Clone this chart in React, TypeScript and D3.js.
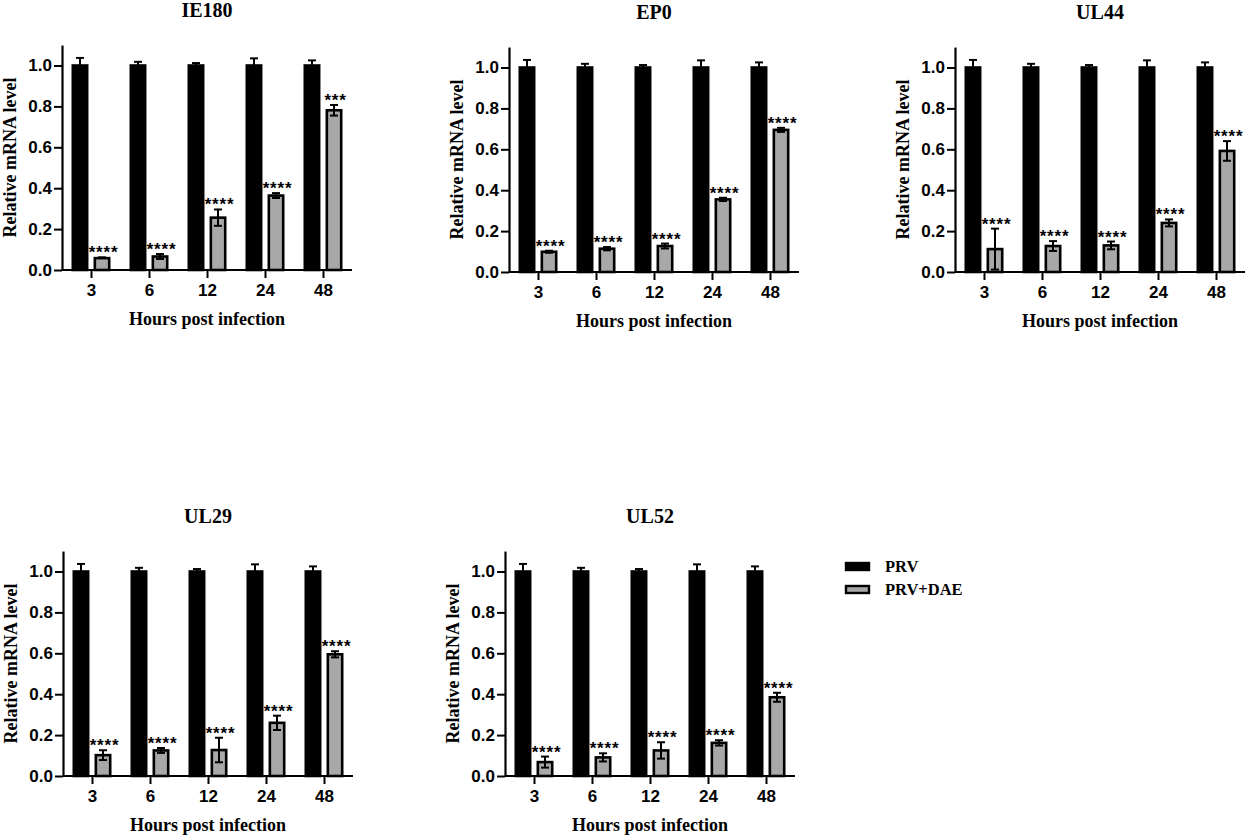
import React, { useEffect, useRef } from 'react';
import * as d3 from 'd3';

// 横轴类别与系列
const hours = ['3', '6', '12', '24', '48'];
const series = ['PRV', 'PRV+DAE'];
const genes = ['IE180', 'EP0', 'UL44', 'UL29', 'UL52'];
const yTicks = [0, 0.2, 0.4, 0.6, 0.8, 1.0];

// PRV 对照组（各基因相同）
const prvMean = [1, 1, 1, 1, 1];
const prvErr = [0.037, 0.018, 0.012, 0.035, 0.025];

// PRV+DAE 组
const ie180Mean = [0.058, 0.066, 0.256, 0.364, 0.781];
const ie180Err = [0.004, 0.012, 0.04, 0.012, 0.026];
const ie180Stars = ['****', '****', '****', '****', '***'];

const ep0Mean = [0.099, 0.114, 0.127, 0.355, 0.695];
const ep0Err = [0.005, 0.008, 0.012, 0.008, 0.01];
const ep0Stars = ['****', '****', '****', '****', '****'];

const ul44Mean = [0.112, 0.127, 0.13, 0.24, 0.592];
const ul44Err = [0.1, 0.024, 0.019, 0.017, 0.048];
const ul44Stars = ['****', '****', '****', '****', '****'];

const ul29Mean = [0.102, 0.125, 0.127, 0.26, 0.595];
const ul29Err = [0.024, 0.012, 0.06, 0.035, 0.015];
const ul29Stars = ['****', '****', '****', '****', '****'];

const ul52Mean = [0.068, 0.091, 0.125, 0.162, 0.385];
const ul52Err = [0.027, 0.02, 0.04, 0.013, 0.022];
const ul52Stars = ['****', '****', '****', '****', '****'];

const daeMeans = [ie180Mean, ep0Mean, ul44Mean, ul29Mean, ul52Mean];
const daeErrs = [ie180Err, ep0Err, ul44Err, ul29Err, ul52Err];
const daeStars = [ie180Stars, ep0Stars, ul44Stars, ul29Stars, ul52Stars];

// 面板布局：y轴位置、基线
const panels = [
  { ax: 62, base: 270 },
  { ax: 509, base: 272 },
  { ax: 955, base: 272 },
  { ax: 63, base: 776 },
  { ax: 505, base: 776 }
];

const WIDTH = 1248;
const HEIGHT = 837;
const AXIS_LEN = 290;
const UNIT = 204.5;
const SERIF = '"Liberation Serif", "Times New Roman", serif';
const SANS = '"Liberation Sans", Arial, sans-serif';
const GRAY = '#a8a8a8';

const App: React.FC = () => {
  const svgRef = useRef<SVGSVGElement>(null);

  useEffect(() => {
    if (!svgRef.current) return;
    const svg = d3.select(svgRef.current);
    svg.selectAll('*').remove();

    genes.forEach((gene, gi) => {
      const { ax, base } = panels[gi];
      const g = svg.append('g');

      const y = d3.scaleLinear().domain([0, 1.1]).range([base, base - 1.1 * UNIT]);
      const x0 = d3.scalePoint<string>().domain(hours).range([ax, ax + AXIS_LEN]).padding(0.5);
      const x1 = d3.scaleBand<string>().domain(series).range([-19.5, 19.5]).paddingInner(0.23);

      const rows = hours.map((h, i) => [
        { h, s: series[0], mean: prvMean[i], err: prvErr[i], stars: '' },
        { h, s: series[1], mean: daeMeans[gi][i], err: daeErrs[gi][i], stars: daeStars[gi][i] }
      ]).flat();

      const sw = 2.6;
      const cxOf = (d: { h: string; s: string }) =>
        (x0(d.h) as number) + (x1(d.s) as number) + x1.bandwidth() / 2;

      // 误差线（先画，柱子覆盖下半部分）
      const eb = g.append('g').attr('stroke', '#000').attr('stroke-width', 2).attr('fill', 'none');
      rows.forEach(d => {
        const cx = cxOf(d);
        const top = y(d.mean + d.err);
        const bot = y(Math.max(0, d.mean - d.err));
        eb.append('line').attr('x1', cx).attr('x2', cx).attr('y1', top).attr('y2', bot);
        eb.append('line').attr('x1', cx - 4).attr('x2', cx + 4).attr('y1', top).attr('y2', top);
      });

      // 柱子
      g.append('g')
        .selectAll('rect')
        .data(rows)
        .enter()
        .append('rect')
        .attr('x', d => (x0(d.h) as number) + (x1(d.s) as number) + sw / 2)
        .attr('width', x1.bandwidth() - sw)
        .attr('y', d => y(d.mean))
        .attr('height', d => y(0) - y(d.mean))
        .attr('fill', d => (d.s === 'PRV' ? '#000' : GRAY))
        .attr('stroke', '#000')
        .attr('stroke-width', sw);

      // 灰色柱子里的下半段误差线
      const eb2 = g.append('g').attr('stroke', '#000').attr('stroke-width', 2);
      rows.filter(d => d.s !== 'PRV').forEach(d => {
        const cx = cxOf(d);
        const top = y(d.mean);
        const bot = y(Math.max(0, d.mean - d.err));
        if (bot - top > 1) {
          eb2.append('line').attr('x1', cx).attr('x2', cx).attr('y1', top).attr('y2', bot);
          eb2.append('line').attr('x1', cx - 4).attr('x2', cx + 4).attr('y1', bot).attr('y2', bot);
        }
      });

      // 显著性星号
      g.append('g')
        .selectAll('text')
        .data(rows.filter(d => d.stars))
        .enter()
        .append('text')
        .attr('x', d => cxOf(d) + 1.5)
        .attr('y', d => y(d.mean + d.err) + 1)
        .attr('text-anchor', 'middle')
        .style('font-family', SANS)
        .style('font-weight', 'bold')
        .style('font-size', '17px')
        .style('letter-spacing', '0.8px')
        .text(d => d.stars);

      // x 轴
      const xAxis = g.append('g')
        .attr('transform', `translate(0, ${base})`)
        .call(d3.axisBottom(x0).tickSize(8).tickPadding(6).tickSizeOuter(0));
      xAxis.select('.domain').attr('stroke-width', 2.2).attr('d', `M${ax},0H${ax + AXIS_LEN}`);
      xAxis.selectAll('.tick line').attr('stroke-width', 2);
      xAxis.selectAll('.tick text')
        .style('font-family', SANS)
        .style('font-weight', 'bold')
        .style('font-size', '17px');

      // y 轴
      const yAxis = g.append('g')
        .attr('transform', `translate(${ax}, 0)`)
        .call(d3.axisLeft(y).tickValues(yTicks).tickFormat(d3.format('.1f')).tickSize(8).tickPadding(2).tickSizeOuter(0));
      yAxis.select('.domain').attr('stroke-width', 2.2);
      yAxis.selectAll('.tick line').attr('stroke-width', 2);
      yAxis.selectAll('.tick text')
        .style('font-family', SANS)
        .style('font-weight', 'bold')
        .style('font-size', '17px');

      const cxMid = ax + AXIS_LEN / 2;

      // 标题
      g.append('text')
        .attr('x', cxMid)
        .attr('y', base - 1.1 * UNIT - 28)
        .attr('text-anchor', 'middle')
        .style('font-family', SERIF)
        .style('font-weight', 'bold')
        .style('font-size', '20px')
        .text(gene);

      // x 轴标题
      g.append('text')
        .attr('x', cxMid)
        .attr('y', base + 55)
        .attr('text-anchor', 'middle')
        .style('font-family', SERIF)
        .style('font-weight', 'bold')
        .style('font-size', '18px')
        .text('Hours post infection');

      // y 轴标题
      g.append('text')
        .attr('transform', `translate(${ax - 46}, ${y(0.55)}) rotate(-90)`)
        .attr('text-anchor', 'middle')
        .style('font-family', SERIF)
        .style('font-weight', 'bold')
        .style('font-size', '18px')
        .text('Relative mRNA level');
    });

    // 图例
    const legend = svg.append('g').attr('transform', 'translate(845, 563)');
    series.forEach((s, i) => {
      const row = legend.append('g').attr('transform', `translate(0, ${i * 23})`);
      row.append('rect')
        .attr('x', 1)
        .attr('y', 0)
        .attr('width', 23)
        .attr('height', 7)
        .attr('fill', i === 0 ? '#000' : GRAY)
        .attr('stroke', '#000')
        .attr('stroke-width', 2.4);
      row.append('text')
        .attr('x', 40)
        .attr('y', 8.5)
        .style('font-family', SERIF)
        .style('font-weight', 'bold')
        .style('font-size', '16.5px')
        .text(s);
    });
  }, []);

  return (
    <svg
      ref={svgRef}
      width={WIDTH}
      height={HEIGHT}
      style={{ position: 'absolute', left: 0, top: 0, background: '#fff' }}
    />
  );
};

export default App;
